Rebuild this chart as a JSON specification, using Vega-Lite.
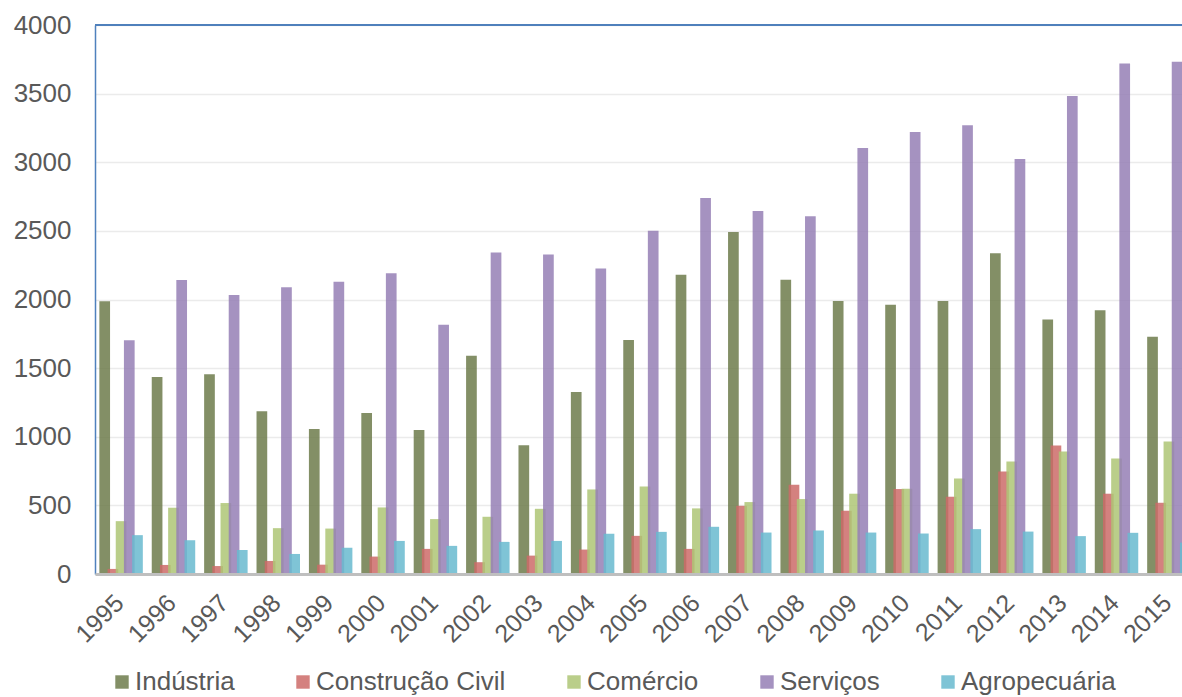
{
  "$schema": "https://vega.github.io/schema/vega-lite/v6.json",
  "width": 1087,
  "height": 549,
  "autosize": {"type": "none"},
  "padding": {"left": 95, "top": 25, "right": 0, "bottom": 123},
  "background": "white",
  "config": {
    "font": "Liberation Sans",
    "view": {"stroke": null}
  },
  "data": {
    "values": [
      {"ano": "1995", "setor": "Indústria", "valor": 1987},
      {"ano": "1995", "setor": "Construção Civil", "valor": 37},
      {"ano": "1995", "setor": "Comércio", "valor": 385},
      {"ano": "1995", "setor": "Serviços", "valor": 1703},
      {"ano": "1995", "setor": "Agropecuária", "valor": 283},
      {"ano": "1996", "setor": "Indústria", "valor": 1435},
      {"ano": "1996", "setor": "Construção Civil", "valor": 66},
      {"ano": "1996", "setor": "Comércio", "valor": 483},
      {"ano": "1996", "setor": "Serviços", "valor": 2142},
      {"ano": "1996", "setor": "Agropecuária", "valor": 246},
      {"ano": "1997", "setor": "Indústria", "valor": 1455},
      {"ano": "1997", "setor": "Construção Civil", "valor": 58},
      {"ano": "1997", "setor": "Comércio", "valor": 517},
      {"ano": "1997", "setor": "Serviços", "valor": 2033},
      {"ano": "1997", "setor": "Agropecuária", "valor": 175},
      {"ano": "1998", "setor": "Indústria", "valor": 1186},
      {"ano": "1998", "setor": "Construção Civil", "valor": 95},
      {"ano": "1998", "setor": "Comércio", "valor": 334},
      {"ano": "1998", "setor": "Serviços", "valor": 2089},
      {"ano": "1998", "setor": "Agropecuária", "valor": 146},
      {"ano": "1999", "setor": "Indústria", "valor": 1056},
      {"ano": "1999", "setor": "Construção Civil", "valor": 68},
      {"ano": "1999", "setor": "Comércio", "valor": 331},
      {"ano": "1999", "setor": "Serviços", "valor": 2129},
      {"ano": "1999", "setor": "Agropecuária", "valor": 192},
      {"ano": "2000", "setor": "Indústria", "valor": 1173},
      {"ano": "2000", "setor": "Construção Civil", "valor": 127},
      {"ano": "2000", "setor": "Comércio", "valor": 485},
      {"ano": "2000", "setor": "Serviços", "valor": 2191},
      {"ano": "2000", "setor": "Agropecuária", "valor": 241},
      {"ano": "2001", "setor": "Indústria", "valor": 1049},
      {"ano": "2001", "setor": "Construção Civil", "valor": 183},
      {"ano": "2001", "setor": "Comércio", "valor": 400},
      {"ano": "2001", "setor": "Serviços", "valor": 1816},
      {"ano": "2001", "setor": "Agropecuária", "valor": 205},
      {"ano": "2002", "setor": "Indústria", "valor": 1590},
      {"ano": "2002", "setor": "Construção Civil", "valor": 86},
      {"ano": "2002", "setor": "Comércio", "valor": 417},
      {"ano": "2002", "setor": "Serviços", "valor": 2343},
      {"ano": "2002", "setor": "Agropecuária", "valor": 234},
      {"ano": "2003", "setor": "Indústria", "valor": 938},
      {"ano": "2003", "setor": "Construção Civil", "valor": 134},
      {"ano": "2003", "setor": "Comércio", "valor": 475},
      {"ano": "2003", "setor": "Serviços", "valor": 2327},
      {"ano": "2003", "setor": "Agropecuária", "valor": 241},
      {"ano": "2004", "setor": "Indústria", "valor": 1326},
      {"ano": "2004", "setor": "Construção Civil", "valor": 178},
      {"ano": "2004", "setor": "Comércio", "valor": 616},
      {"ano": "2004", "setor": "Serviços", "valor": 2225},
      {"ano": "2004", "setor": "Agropecuária", "valor": 293},
      {"ano": "2005", "setor": "Indústria", "valor": 1705},
      {"ano": "2005", "setor": "Construção Civil", "valor": 278},
      {"ano": "2005", "setor": "Comércio", "valor": 638},
      {"ano": "2005", "setor": "Serviços", "valor": 2501},
      {"ano": "2005", "setor": "Agropecuária", "valor": 307},
      {"ano": "2006", "setor": "Indústria", "valor": 2181},
      {"ano": "2006", "setor": "Construção Civil", "valor": 183},
      {"ano": "2006", "setor": "Comércio", "valor": 478},
      {"ano": "2006", "setor": "Serviços", "valor": 2740},
      {"ano": "2006", "setor": "Agropecuária", "valor": 344},
      {"ano": "2007", "setor": "Indústria", "valor": 2492},
      {"ano": "2007", "setor": "Construção Civil", "valor": 497},
      {"ano": "2007", "setor": "Comércio", "valor": 524},
      {"ano": "2007", "setor": "Serviços", "valor": 2644},
      {"ano": "2007", "setor": "Agropecuária", "valor": 302},
      {"ano": "2008", "setor": "Indústria", "valor": 2144},
      {"ano": "2008", "setor": "Construção Civil", "valor": 651},
      {"ano": "2008", "setor": "Comércio", "valor": 546},
      {"ano": "2008", "setor": "Serviços", "valor": 2607},
      {"ano": "2008", "setor": "Agropecuária", "valor": 317},
      {"ano": "2009", "setor": "Indústria", "valor": 1989},
      {"ano": "2009", "setor": "Construção Civil", "valor": 461},
      {"ano": "2009", "setor": "Comércio", "valor": 585},
      {"ano": "2009", "setor": "Serviços", "valor": 3104},
      {"ano": "2009", "setor": "Agropecuária", "valor": 302},
      {"ano": "2010", "setor": "Indústria", "valor": 1962},
      {"ano": "2010", "setor": "Construção Civil", "valor": 619},
      {"ano": "2010", "setor": "Comércio", "valor": 622},
      {"ano": "2010", "setor": "Serviços", "valor": 3220},
      {"ano": "2010", "setor": "Agropecuária", "valor": 295},
      {"ano": "2011", "setor": "Indústria", "valor": 1989},
      {"ano": "2011", "setor": "Construção Civil", "valor": 563},
      {"ano": "2011", "setor": "Comércio", "valor": 695},
      {"ano": "2011", "setor": "Serviços", "valor": 3269},
      {"ano": "2011", "setor": "Agropecuária", "valor": 327},
      {"ano": "2012", "setor": "Indústria", "valor": 2337},
      {"ano": "2012", "setor": "Construção Civil", "valor": 746},
      {"ano": "2012", "setor": "Comércio", "valor": 819},
      {"ano": "2012", "setor": "Serviços", "valor": 3024},
      {"ano": "2012", "setor": "Agropecuária", "valor": 309},
      {"ano": "2013", "setor": "Indústria", "valor": 1855},
      {"ano": "2013", "setor": "Construção Civil", "valor": 936},
      {"ano": "2013", "setor": "Comércio", "valor": 892},
      {"ano": "2013", "setor": "Serviços", "valor": 3482},
      {"ano": "2013", "setor": "Agropecuária", "valor": 276},
      {"ano": "2014", "setor": "Indústria", "valor": 1921},
      {"ano": "2014", "setor": "Construção Civil", "valor": 585},
      {"ano": "2014", "setor": "Comércio", "valor": 841},
      {"ano": "2014", "setor": "Serviços", "valor": 3720},
      {"ano": "2014", "setor": "Agropecuária", "valor": 300},
      {"ano": "2015", "setor": "Indústria", "valor": 1729},
      {"ano": "2015", "setor": "Construção Civil", "valor": 519},
      {"ano": "2015", "setor": "Comércio", "valor": 965},
      {"ano": "2015", "setor": "Serviços", "valor": 3732},
      {"ano": "2015", "setor": "Agropecuária", "valor": 229}
    ]
  },
  "layer": [
    {
      "mark": {"type": "bar", "width": 10.7, "opacity": 0.85},
      "encoding": {
        "x": {
          "field": "ano",
          "type": "nominal",
          "scale": {"range": [0, 1100], "paddingInner": 0.218, "paddingOuter": 0.107},
          "axis": {
            "title": null,
            "labelAngle": -45,
            "labelFontSize": 25,
            "labelColor": "#595959",
            "labelPadding": 16,
            "labelOffset": -10,
            "labelAlign": "right",
            "labelBaseline": "top",
            "ticks": false,
            "grid": false,
            "domainColor": "#BFBFBF",
            "domainWidth": 3,
            "zindex": 1
          }
        },
        "xOffset": {
          "field": "setor",
          "sort": ["Indústria", "Construção Civil", "Comércio", "Serviços", "Agropecuária"],
          "scale": {"paddingInner": 0, "paddingOuter": 0}
        },
        "y": {
          "field": "valor",
          "type": "quantitative",
          "scale": {"domain": [0, 4000], "nice": false},
          "axis": {
            "title": null,
            "values": [0, 500, 1000, 1500, 2000, 2500, 3000, 3500, 4000],
            "format": "d",
            "labelFontSize": 26,
            "labelColor": "#595959",
            "labelPadding": 24,
            "ticks": false,
            "grid": true,
            "gridColor": "#EBEBEB",
            "gridWidth": 1.5,
            "domain": true,
            "domainColor": "#4F81BD",
            "domainWidth": 1.5
          }
        },
        "color": {
          "field": "setor",
          "type": "nominal",
          "sort": ["Indústria", "Construção Civil", "Comércio", "Serviços", "Agropecuária"],
          "scale": {
            "domain": ["Indústria", "Construção Civil", "Comércio", "Serviços", "Agropecuária"],
            "range": ["#6D7B4B", "#CC6B68", "#AEC675", "#957FB5", "#68BACF"]
          },
          "legend": {
            "title": null,
            "orient": "none",
            "direction": "horizontal",
            "legendX": 14,
            "legendY": 644,
            "padding": 0,
            "symbolType": "square",
            "symbolSize": 180,
            "symbolStrokeWidth": 0,
            "symbolOpacity": 0.85,
            "labelFontSize": 26,
            "labelColor": "#595959",
            "labelOffset": 0,
            "columnPadding": 55,
            "labelLimit": 400
          }
        }
      }
    },
    {
      "mark": {"type": "rule", "color": "#4F81BD", "strokeWidth": 1.5},
      "encoding": {"y": {"datum": 4000}}
    }
  ]
}
